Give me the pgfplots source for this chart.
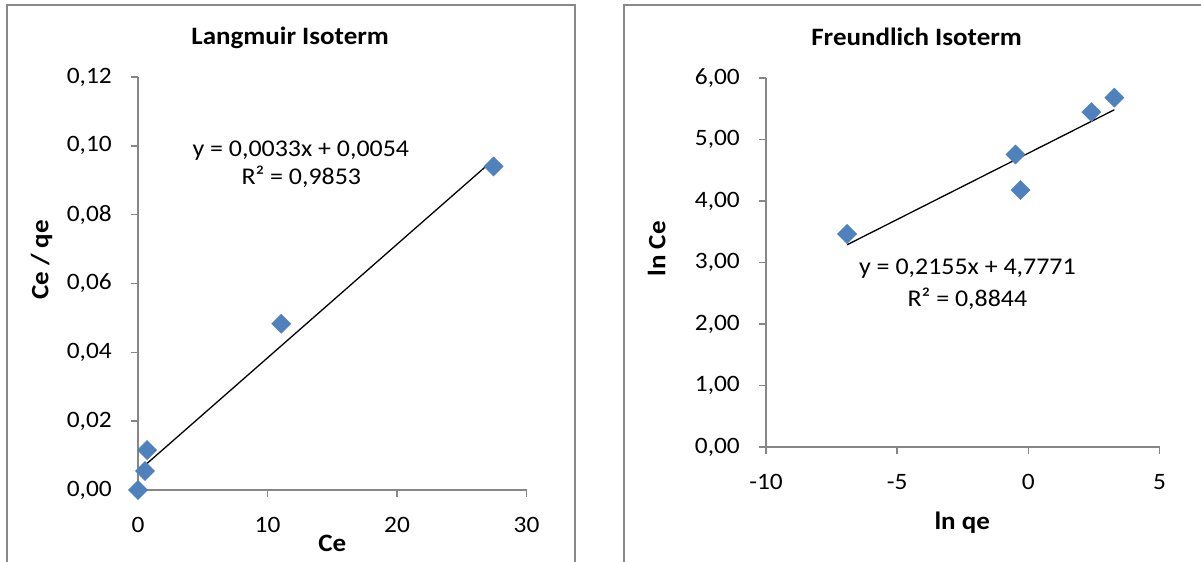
\documentclass[border=0pt]{standalone}
\usepackage{fontspec}
\setmainfont{Carlito}[FakeStretch=1.08]
\usepackage{pgfplots}
\usepackage{pgfplotstable}
\pgfplotsset{compat=1.18}
\definecolor{axgray}{HTML}{868686}
\definecolor{framegray}{HTML}{898989}
\definecolor{xblue}{HTML}{4F81BD}
\pgfplotstableread{
x y
0.00 0.0000
0.54 0.0055
0.70 0.0116
11.06 0.0483
27.46 0.0940
}\langdata
\pgfplotstableread{
x y
-6.91 3.464
-0.49 4.755
-0.30 4.180
2.40 5.445
3.28 5.680
}\freunddata
\newcommand{\tickfont}{\fontsize{23.5bp}{28bp}\selectfont}
\newcommand{\labfont}{\fontsize{25bp}{30bp}\selectfont\bfseries}
\newcommand{\eqfont}{\fontsize{24bp}{29bp}\selectfont}
\pgfplotsset{
  excel/.style={
    scale only axis, clip=false,
    axis lines*=left,
    axis line style={axgray, line width=1.5bp},
    every tick/.style={axgray, line width=1.5bp},
    tick align=outside,
    major tick length=7bp,
    ticklabel style={font=\tickfont, text=black, inner sep=0pt},
    /pgf/number format/assume math mode=true,
    yticklabel shift=19bp,
    xticklabel shift=20bp,
    scaled y ticks=false,
    scaled x ticks=false,
    title style={font=\labfont, anchor=base},
    xlabel style={font=\labfont, anchor=base},
    ylabel style={font=\labfont, anchor=center},
  },
  diam/.style={only marks, color=xblue, mark=square*, mark size=6.8bp,
    mark options={rotate=45, fill=xblue, draw=none}},
}
\begin{document}
\begin{tikzpicture}
\useasboundingbox (0,0) rectangle (1201bp,562bp);
\draw[framegray, line width=2bp] (7bp,-2bp) -- (7bp,557bp) -- (575bp,557bp) -- (575bp,-2bp);
\draw[framegray, line width=2bp] (624bp,-2bp) -- (624bp,557bp) -- (1203bp,557bp);

\begin{axis}[excel, at={(138bp,72bp)}, anchor=south west,
  width=388.5bp, height=413bp,
  xmin=0, xmax=30, ymin=0, ymax=0.12,
  xtick={0,10,20,30},
  ytick={0,0.02,0.04,0.06,0.08,0.10,0.12},
  yticklabel style={/pgf/number format/.cd, fixed, fixed zerofill, precision=2, use comma},
  title={Langmuir Isoterm},
  title style={at={(axis description cs:0.3916,1.063)}},
  xlabel={Ce},
  xlabel style={at={(axis description cs:0.5,-0.150)}},
  ylabel={Ce / qe},
  ylabel style={at={(axis description cs:-0.248,0.557)}},
]
\addplot[diam] table {\langdata};
\addplot[black, line width=1.3bp, no marks] coordinates {(0,0.0054) (27.46,0.0960)};
\node[font=\eqfont, anchor=base] at (axis description cs:0.419,0.8087) {y = 0,0033x + 0,0054};
\node[font=\eqfont, anchor=base] at (axis description cs:0.4204,0.7400) {R² = 0,9853};
\end{axis}

\begin{axis}[excel, at={(766bp,115bp)}, anchor=south west,
  width=393.5bp, height=369bp,
  xmin=-10, xmax=5, ymin=0, ymax=6,
  xtick={-10,-5,0,5},
  ytick={0,1,2,3,4,5,6},
  yticklabel style={/pgf/number format/.cd, fixed, fixed zerofill, precision=2, use comma},
  title={Freundlich Isoterm},
  title style={at={(axis description cs:0.3827,1.073)}},
  xlabel={ln qe},
  xlabel style={at={(axis description cs:0.4986,-0.224)}},
  ylabel={ln Ce},
  ylabel style={at={(axis description cs:-0.2778,0.537)}},
]
\addplot[diam] table {\freunddata};
\addplot[black, line width=1.3bp, no marks] coordinates {(-6.91,3.288) (3.28,5.484)};
\node[font=\eqfont, anchor=base] at (axis description cs:0.5118,0.4688) {y = 0,2155x + 4,7771};
\node[font=\eqfont, anchor=base] at (axis description cs:0.5118,0.3808) {R² = 0,8844};
\end{axis}
\end{tikzpicture}
\end{document}
